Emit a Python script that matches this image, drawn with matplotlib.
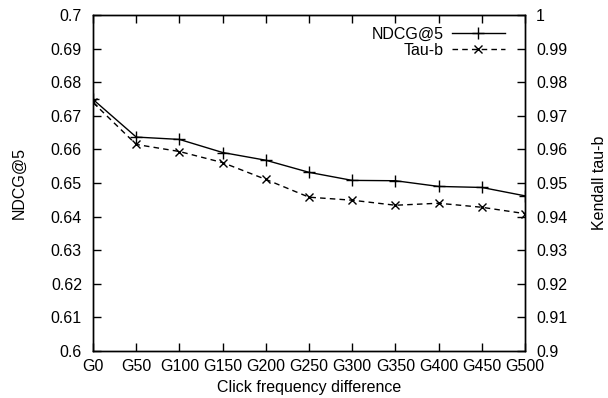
import matplotlib
matplotlib.use("Agg")
import matplotlib.pyplot as plt

plt.rcParams["font.family"] = ["Liberation Sans", "DejaVu Sans"]
plt.rcParams["font.size"] = 11.5

# data
groups = ["G0", "G50", "G100", "G150", "G200", "G250",
          "G300", "G350", "G400", "G450", "G500"]
ndcg5 = [0.6749, 0.6637, 0.6630, 0.6591, 0.6568, 0.6532,
         0.6508, 0.6507, 0.6490, 0.6487, 0.6462]
tau_b = [0.9740, 0.9615, 0.9594, 0.9561, 0.9511, 0.9458,
         0.9449, 0.9434, 0.9440, 0.9428, 0.9409]
left_ticks = [0.6, 0.61, 0.62, 0.63, 0.64, 0.65, 0.66, 0.67, 0.68, 0.69, 0.7]
right_ticks = [0.9, 0.91, 0.92, 0.93, 0.94, 0.95, 0.96, 0.97, 0.98, 0.99, 1.0]

fig = plt.figure(figsize=(6.08, 3.98), dpi=100)
ax = fig.add_axes([0.153, 0.118, 0.7105, 0.844])
ax2 = ax.twinx()

x = list(range(len(groups)))
l1, = ax.plot(x, ndcg5, color="black", lw=1.0, marker="+", ms=8, mew=1.0,
              label="NDCG@5")
l2, = ax2.plot(x, tau_b, color="black", lw=1.0, ls=(0, (4, 3)), marker="x",
               ms=6, mew=1.0, label="Tau-b")

ax.set_xlim(0, len(groups) - 1)
ax.set_ylim(0.6, 0.7)
ax2.set_ylim(0.9, 1.0)
ax.set_xticks(x)
ax.set_xticklabels(groups)
ax.set_yticks(left_ticks)
ax.set_yticklabels([f"{v:g}" for v in left_ticks])
ax2.set_yticks(right_ticks)
ax2.set_yticklabels([f"{v:g}" for v in right_ticks])

ax.tick_params(axis="x", direction="in", top=True, length=6, width=1, pad=6)
ax.tick_params(axis="y", direction="in", length=6, width=1, pad=8)
ax2.tick_params(axis="y", direction="in", length=6, width=1, pad=8)
for a in (ax, ax2):
    for s in a.spines.values():
        s.set_linewidth(1.0)

ax.set_xlabel("Click frequency difference", labelpad=4)
ax.set_ylabel("NDCG@5", labelpad=17)
ax2.set_ylabel("Kendall tau-b", labelpad=18)

ax.legend([l1, l2], ["NDCG@5", "Tau-b"], loc="upper right",
          bbox_to_anchor=(0.975, 0.995), frameon=False, markerfirst=False,
          handlelength=3.3, handletextpad=0.5, labelspacing=0.1,
          borderaxespad=0.2)

fig.savefig("out.png", dpi=100)
